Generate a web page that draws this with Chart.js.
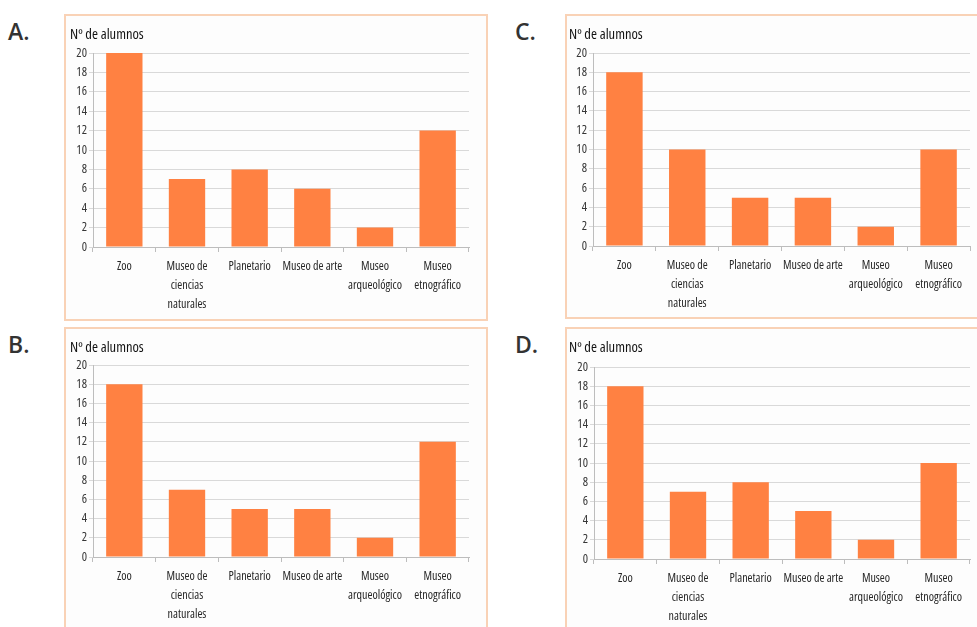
<!DOCTYPE html>
<html lang="es">
<head>
<meta charset="utf-8">
<title>Nº de alumnos por visita</title>
<script src="https://cdn.jsdelivr.net/npm/chart.js@4.4.1/dist/chart.umd.min.js"></script>
<style>
  html, body { margin: 0; padding: 0; background: #ffffff; }
  body { width: 977px; height: 627px; position: relative; overflow: hidden; }
  .box { position: absolute; border: 2px solid #F9D2B6; box-sizing: border-box; background: #fdfdfd; }
  .letter { position: absolute; font-family: "Open Sans", "Noto Sans", sans-serif; font-weight: 600; font-size: 23px; color: #333; line-height: 1; }
  .wrap { position: absolute; }
</style>
</head>
<body>
<script>
// Destinos de la excursión (etiquetas del eje X, en varias líneas)
const categories = [
  ["Zoo"],
  ["Museo de", "ciencias", "naturales"],
  ["Planetario"],
  ["Museo de arte"],
  ["Museo", "arqueológico"],
  ["Museo", "etnográfico"]
];

// Número de alumnos en cada gráfico
const valuesA = [20, 7, 8, 6, 2, 12];
const valuesB = [18, 7, 5, 5, 2, 12];
const valuesC = [18, 10, 5, 5, 2, 10];
const valuesD = [18, 7, 8, 5, 2, 10];

// Eje Y
const yMin = 0;
const yMax = 20;
const yStep = 2;
const yTitle = "Nº de alumnos";

// Texto estrecho: Open Sans con anchura condensada
const narrowFamily = "'Open Sans', Roboto, sans-serif";
const narrowStretch = "condensed";

// Geometría de cada panel
const panels = [
  { letter: "A.", values: valuesA, box: [64, 14, 424, 307], letterPos: [8, 20],
    L: 66, T: 18, W: 410, H: 300, axisX: 93, plotRight: 469, plotTop: 53, plotBottom: 247, titleY: 35 },
  { letter: "C.", values: valuesC, box: [565, 14, 430, 305], letterPos: [515, 20],
    L: 565, T: 18, W: 410, H: 300, axisX: 593, plotRight: 970, plotTop: 53, plotBottom: 246, titleY: 35 },
  { letter: "B.", values: valuesB, box: [64, 327, 424, 320], letterPos: [8, 333],
    L: 66, T: 330, W: 410, H: 297, axisX: 93, plotRight: 469, plotTop: 365, plotBottom: 557, titleY: 348 },
  { letter: "D.", values: valuesD, box: [565, 327, 430, 320], letterPos: [515, 333],
    L: 565, T: 330, W: 410, H: 297, axisX: 594, plotRight: 970, plotTop: 367, plotBottom: 559, titleY: 348 }
];

const titleSize = 14.5;
const titleLH = titleSize * 1.2;

panels.forEach((p) => {
  const box = document.createElement("div");
  box.className = "box";
  box.style.left = p.box[0] + "px";
  box.style.top = p.box[1] + "px";
  box.style.width = p.box[2] + "px";
  box.style.height = p.box[3] + "px";
  document.body.appendChild(box);

  const lt = document.createElement("div");
  lt.className = "letter";
  lt.textContent = p.letter;
  lt.style.left = p.letterPos[0] + "px";
  lt.style.top = p.letterPos[1] + "px";
  document.body.appendChild(lt);

  const wrap = document.createElement("div");
  wrap.className = "wrap";
  wrap.style.left = p.L + "px";
  wrap.style.top = p.T + "px";
  wrap.style.width = p.W + "px";
  wrap.style.height = p.H + "px";
  const cv = document.createElement("canvas");
  cv.width = p.W;
  cv.height = p.H;
  wrap.appendChild(cv);
  document.body.appendChild(wrap);

  const padLeft = 4;
  const padRight = p.W - (p.plotRight - p.L);
  const yWidth = p.axisX - p.L - padLeft;
  const xHeight = p.H - (p.plotBottom - p.T);
  const tPadTop = p.titleY - p.T - titleLH / 2;
  const tPadBottom = (p.plotTop - p.T) - tPadTop - titleLH;

  new Chart(cv, {
    type: "bar",
    data: {
      labels: categories,
      datasets: [{
        data: p.values,
        backgroundColor: "#FF8142",
        borderWidth: 0,
        barPercentage: 0.58,
        categoryPercentage: 1
      }]
    },
    options: {
      responsive: false,
      animation: false,
      events: [],
      layout: { padding: { left: padLeft, right: padRight, top: 0, bottom: 0 } },
      plugins: {
        legend: { display: false },
        tooltip: { enabled: false },
        title: {
          display: true,
          text: yTitle,
          align: "start",
          color: "#141414",
          font: { family: narrowFamily, size: titleSize, style: "normal", weight: "500 " + narrowStretch, lineHeight: 1.2 },
          padding: { top: tPadTop, bottom: tPadBottom }
        }
      },
      scales: {
        x: {
          grid: { display: true, drawOnChartArea: false, drawTicks: true, tickLength: 5, color: "#BDBDBD", offset: true },
          border: { display: true, color: "#BDBDBD", width: 1 },
          ticks: {
            color: "#262626",
            padding: 5.5,
            maxRotation: 0,
            autoSkip: false,
            font: { family: narrowFamily, size: 12, style: "normal", weight: narrowStretch, lineHeight: 19 / 12 }
          },
          afterFit: (s) => { s.height = xHeight; }
        },
        y: {
          min: yMin,
          max: yMax,
          grid: { color: "#D9D9D9", lineWidth: 1, tickLength: 4, drawTicks: true },
          border: { display: true, color: "#BDBDBD", width: 1 },
          ticks: {
            stepSize: yStep,
            color: "#363636",
            padding: 2,
            font: { family: narrowFamily, size: 12.5, style: "normal", weight: narrowStretch }
          },
          afterFit: (s) => { s.width = yWidth; }
        }
      }
    }
  });
});
</script>
</body>
</html>
